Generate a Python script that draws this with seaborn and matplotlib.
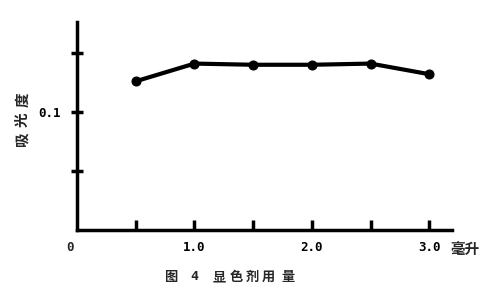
import matplotlib
matplotlib.use("Agg")
import matplotlib.pyplot as plt
import seaborn as sns
import pandas as pd

# data
volume_ml = [0.5, 1.0, 1.5, 2.0, 2.5, 3.0]
absorbance = [0.126, 0.141, 0.140, 0.140, 0.141, 0.132]
x_tick_values = [1.0, 2.0, 3.0]
x_tick_labels = ["1.0", "2.0", "3.0"]
x_minor_ticks = [0.5, 1.5, 2.5]
y_tick_values = [0.05, 0.10, 0.15]
y_tick_labels = ["", "0.1", ""]
y_label_chars = ["吸", "光", "度"]
caption_chars = ["图", "4", "显", "色", "剂", "用", "量"]
unit_label = "毫升"

sns.set_theme(style="white")
plt.rcParams['font.family'] = ['Noto Sans CJK SC', 'DejaVu Sans']

df = pd.DataFrame({"volume": volume_ml, "abs": absorbance})

W, H = 496, 296
fig = plt.figure(figsize=(W / 100, H / 100), dpi=100)
ax = fig.add_axes([0.1552, 0.223, 0.7554, 0.7037])

sns.lineplot(data=df, x="volume", y="abs", ax=ax, color="black", linewidth=3,
             marker="o", markersize=6.5, markeredgecolor="black", markerfacecolor="black")

ax.set_xlim(0, 3.19)
ax.set_ylim(0, 0.1765)
for s in ["top", "right"]:
    ax.spines[s].set_visible(False)
for s in ["left", "bottom"]:
    ax.spines[s].set_color("black")
    ax.spines[s].set_linewidth(2.5)

num_font = dict(family="DejaVu Sans Mono", weight="bold", size=9)

ax.set_xticks(x_tick_values)
ax.set_xticklabels(x_tick_labels, fontdict=num_font)
ax.set_xticks(x_minor_ticks, minor=True)
ax.tick_params(axis="x", which="both", direction="in", length=7, width=2.5,
               colors="black", pad=8, bottom=True)
ax.set_yticks(y_tick_values)
ax.set_yticklabels(y_tick_labels, fontdict=num_font)
ax.tick_params(axis="y", direction="inout", length=8, width=2.5, colors="black",
               pad=8, left=True)
ax.set_xlabel("")
ax.set_ylabel("")

ax.text(-0.06, -0.055, "0", transform=ax.get_xaxis_transform(), ha="center", va="top",
        fontfamily="DejaVu Sans Mono", fontweight="bold", fontsize=9)


def px(x, y):
    return x / W, 1 - y / H


# y label, rotated characters
for ch, yc in zip(y_label_chars, [139, 120, 100]):
    fig.text(*px(22, yc), ch, rotation=90, fontsize=10.5, fontweight="bold",
             ha="center", va="center")

# unit label
fig.text(*px(450, 249), unit_label, fontsize=10.5, fontweight="bold",
         ha="left", va="center")

# caption
for ch, xc in zip(caption_chars, [171, 194, 219, 236, 252, 268, 288]):
    fam = "DejaVu Sans Mono" if ch.isdigit() else None
    kw = dict(fontsize=9.5, fontweight="bold", ha="center", va="center")
    if fam:
        kw["fontfamily"] = fam
    fig.text(*px(xc, 277), ch, **kw)

fig.savefig("out.png", dpi=100)
